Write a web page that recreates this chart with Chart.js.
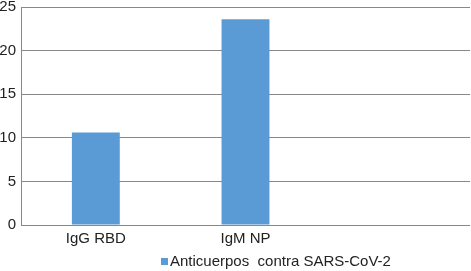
<!DOCTYPE html>
<html>
<head>
<meta charset="utf-8">
<script src="https://cdn.jsdelivr.net/npm/chart.js@4"></script>
<style>
  html, body { margin: 0; padding: 0; background: #fff; }
  #wrap { width: 471px; height: 271px; }
</style>
</head>
<body>
<div id="wrap"><canvas id="myChart" width="471" height="271"></canvas></div>
<script>
// data
var categories = ["IgG RBD", "IgM NP", ""];
var seriesName = "Anticuerpos  contra SARS-CoV-2";
var values = [10.6, 23.6, null];
var yTicks = [0, 5, 10, 15, 20, 25];

var barColor = "#5B9BD5";
var gridColor = "#888888";
var font = { family: "'Liberation Sans', Arial, sans-serif", size: 15 };

// simple legend drawn under the plot, like the original
var legendPlugin = {
  id: "bottomLegend",
  afterDraw: function (chart) {
    var ctx = chart.ctx;
    var ds = chart.data.datasets[0];
    ctx.save();
    ctx.fillStyle = ds.backgroundColor;
    ctx.fillRect(161, 258, 7, 7);
    ctx.fillStyle = "#222";
    ctx.font = font.size + "px " + font.family;
    ctx.textBaseline = "middle";
    ctx.fillText(ds.label, 170, 262);
    ctx.restore();
  }
};

var ctx = document.getElementById("myChart").getContext("2d");
var myChart = new Chart(ctx, {
  type: "bar",
  data: {
    labels: categories,
    datasets: [
      {
        label: seriesName,
        data: values,
        backgroundColor: barColor,
        borderWidth: 0,
        categoryPercentage: 1,
        barPercentage: 0.32,
      },
    ],
  },
  options: {
    responsive: false,
    animation: false,
    layout: { padding: { top: 0, right: 1, bottom: 22, left: 0 } },
    plugins: {
      legend: { display: false },
      tooltip: { enabled: false },
    },
    scales: {
      x: {
        grid: { display: false, drawTicks: false },
        border: { display: false },
        ticks: { color: "#222", font: font, padding: 5 },
        afterFit: function (scale) { scale.height = 24; },
      },
      y: {
        min: 0,
        max: 25,
        afterBuildTicks: function (scale) {
          scale.ticks = yTicks.map(function (v) { return { value: v }; });
        },
        grid: { color: gridColor, lineWidth: 1, drawTicks: false },
        border: { display: true, color: gridColor, width: 1 },
        ticks: { color: "#222", font: font, padding: 5 },
        afterFit: function (scale) {
          scale.width = 21;
          scale.paddingTop = 7;
        },
      },
    },
  },
  plugins: [legendPlugin],
});
</script>
</body>
</html>
